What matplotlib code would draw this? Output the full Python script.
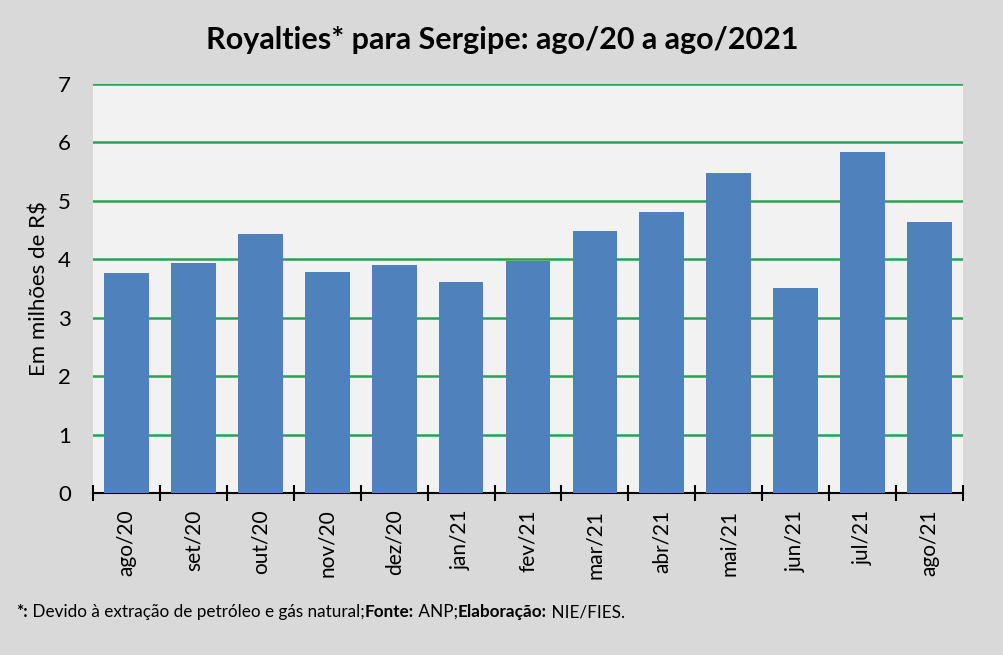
import matplotlib.pyplot as plt
import numpy as np

plt.rcParams['font.family'] = ['Lato', 'DejaVu Sans']

meses = ['ago/20', 'set/20', 'out/20', 'nov/20', 'dez/20', 'jan/21', 'fev/21',
         'mar/21', 'abr/21', 'mai/21', 'jun/21', 'jul/21', 'ago/21']
royalties = [3.77, 3.94, 4.43, 3.78, 3.90, 3.61, 3.97,
             4.48, 4.81, 5.48, 3.51, 5.84, 4.64]

# nota de rodapé: (texto, peso)
partes = [('*:', 'bold'), (' Devido à extração de petróleo e gás natural;', 'normal'),
          ('Fonte:', 'bold'), (' ANP;', 'normal'), ('Elaboração:', 'bold'),
          (' NIE/FIES.', 'normal')]

fig = plt.figure(figsize=(10.04, 6.55), dpi=100, facecolor='#d9d9d9')
ax = fig.add_axes([93 / 1004, 162 / 655, 870 / 1004, 409 / 655])
ax.set_facecolor('#f2f2f2')

x = np.arange(len(meses))
ax.bar(x, royalties, width=0.67, color='#4f81bd', zorder=3)

ax.set_xlim(-0.5, len(meses) - 0.5)
ax.set_ylim(0, 7)
ax.set_yticks(range(8))
ax.grid(axis='y', color='#2e9e54', linewidth=1.8, zorder=1)
ax.tick_params(axis='y', length=0, labelsize=16, pad=16)

# rótulos no centro, marcas entre as categorias
ax.set_xticks(x)
ax.set_xticklabels(meses, rotation=90, fontsize=15)
ax.tick_params(axis='x', which='major', length=0, pad=12)
ax.set_xticks(np.arange(len(meses) + 1) - 0.5, minor=True)
ax.tick_params(axis='x', which='minor', direction='inout', length=12, width=1.5)

for s in ['top', 'right', 'left']:
    ax.spines[s].set_visible(False)
ax.spines['bottom'].set_linewidth(1.5)

ax.set_ylabel('Em milhões de R$', fontsize=16, labelpad=6)

fig.text(0.5, 1 - 40 / 655, 'Royalties* para Sergipe: ago/20 a ago/2021',
         ha='center', va='center', fontsize=22, fontweight='bold')

prev = fig.text(16 / 1004, 1 - 612 / 655, partes[0][0], fontsize=12.3,
                fontweight=partes[0][1], va='center')
for txt, w in partes[1:]:
    prev = ax.annotate(txt, xy=(1, 0.5), xycoords=prev, va='center', ha='left',
                       fontsize=12.3, fontweight=w, annotation_clip=False)

fig.savefig('out.png', dpi=100, facecolor=fig.get_facecolor())
